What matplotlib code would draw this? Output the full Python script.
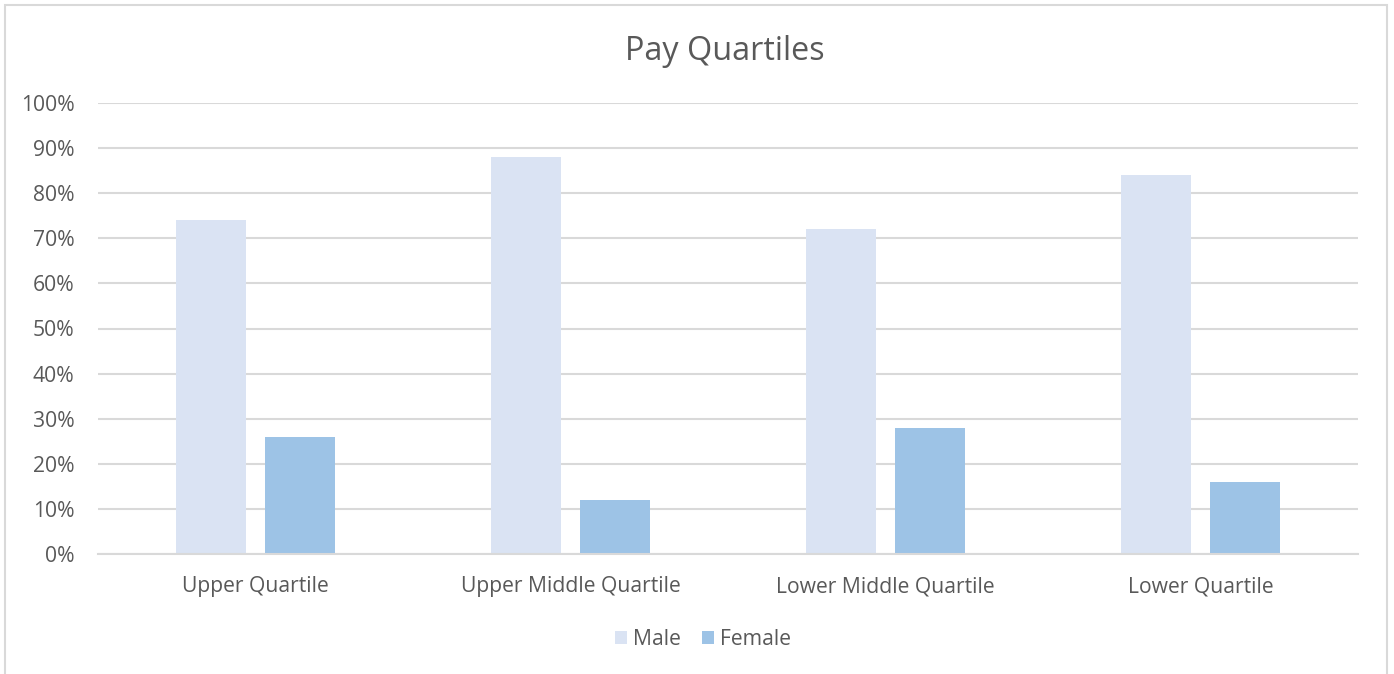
import numpy as np
import matplotlib.pyplot as plt
from matplotlib.patches import Rectangle

plt.rcParams['font.family'] = ['Open Sans', 'DejaVu Sans']

# Quartile data (percent)
categories = ['Upper Quartile', 'Upper Middle Quartile', 'Lower Middle Quartile', 'Lower Quartile']
male = [74, 88, 72, 84]
female = [26, 12, 28, 16]
yticks = [0, 10, 20, 30, 40, 50, 60, 70, 80, 90, 100]

text_col = '#595959'
grid_col = '#d9d9d9'

fig = plt.figure(figsize=(13.94, 6.74), dpi=100)
ax = fig.add_axes([98 / 1394, 120 / 674, 1260 / 1394, 451 / 674])

x = np.arange(len(categories))
w = 0.222
ax.bar(x - 0.141, male, w, color='#DAE3F3', label='Male', zorder=3)
ax.bar(x + 0.141, female, w, color='#9DC3E6', label='Female', zorder=3)

ax.set_xlim(-0.5, len(categories) - 0.5)
ax.set_ylim(0, 100)
ax.set_yticks(yticks)
ax.set_yticklabels([f'{v}%' for v in yticks], fontsize=15.2, color=text_col)
ax.set_xticks(x)
ax.set_xticklabels(categories, fontsize=15.2, color=text_col)
ax.tick_params(axis='both', length=0)
ax.tick_params(axis='y', pad=17)
ax.tick_params(axis='x', pad=16)
ax.grid(axis='y', color=grid_col, linewidth=1.5, zorder=0)
for s in ['top', 'right', 'left']:
    ax.spines[s].set_visible(False)
ax.spines['bottom'].set_color(grid_col)
ax.spines['bottom'].set_linewidth(1.5)
ax.spines['bottom'].set_zorder(4)

fig.text(0.52, 1 - 51 / 674, 'Pay Quartiles', ha='center', va='center',
         fontsize=23.3, color=text_col)

ax.legend(loc='center', bbox_to_anchor=(0.5 - 25 / 1260, -0.19), ncol=2, frameon=False,
          fontsize=15.2, labelcolor=text_col, handlelength=0.55, handleheight=0.55,
          handletextpad=0.3, columnspacing=1.0)

# chart border
fig.patches.append(Rectangle((5 / 1394, -0.01), 1382 / 1394, 1 - 5 / 674 + 0.01,
                             transform=fig.transFigure, fill=False,
                             edgecolor=grid_col, linewidth=1.5))

fig.savefig('out.png', dpi=100)
